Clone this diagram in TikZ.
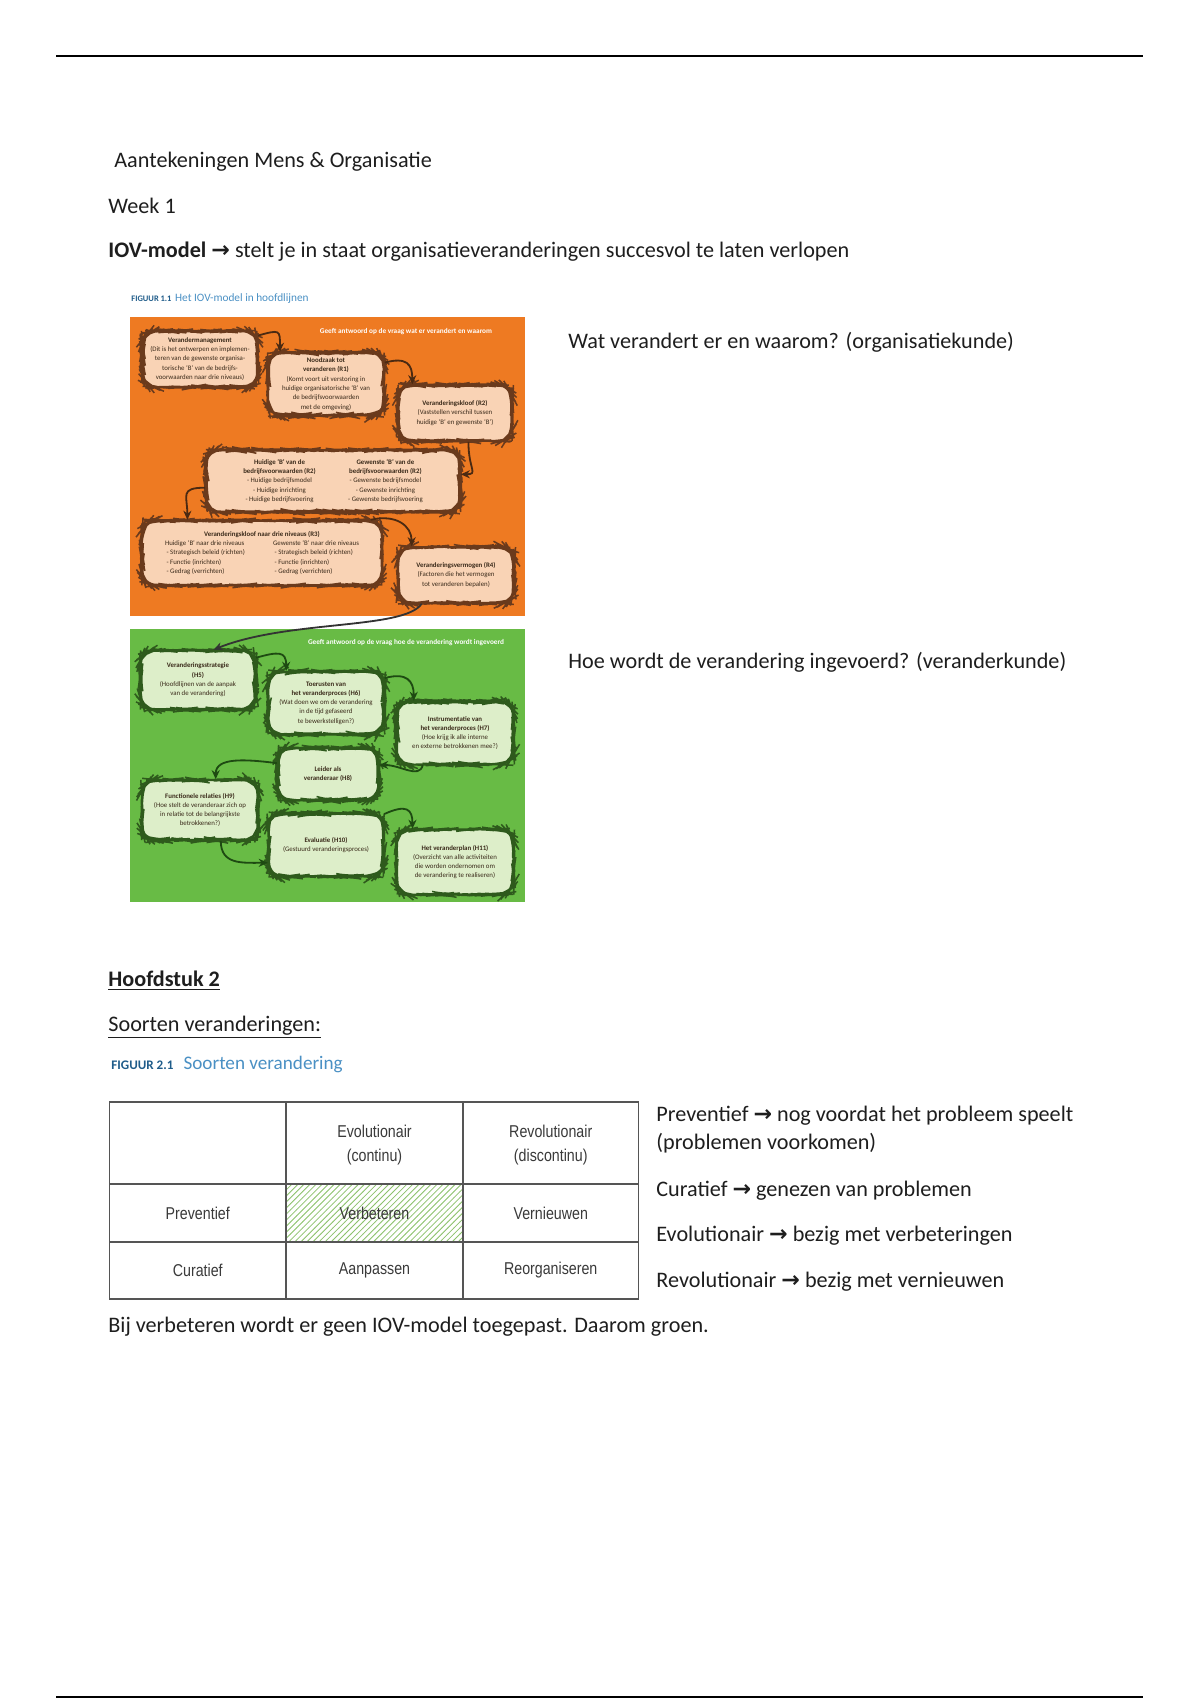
\documentclass[tikz,border=0pt]{standalone}
\usepackage{fontspec}
\setmainfont{Carlito}
\newfontfamily\arrowfont{DejaVu Sans}
\newfontfamily\tabfont[FakeStretch=0.83]{Liberation Sans}
\usetikzlibrary{patterns,decorations.pathmorphing,arrows.meta}
\definecolor{bodyc}{HTML}{1E1E1E}
\definecolor{orangebg}{HTML}{EE7A22}
\definecolor{ofill}{HTML}{F9D3B5}
\definecolor{obord}{HTML}{6A3A1C}
\definecolor{oarrc}{HTML}{4B2A12}
\definecolor{greenbg}{HTML}{68BB45}
\definecolor{gfill}{HTML}{DDEEC9}
\definecolor{gbord}{HTML}{2E5A1C}
\definecolor{garrc}{HTML}{1E4A12}
\definecolor{boxtext}{HTML}{3A2A1A}
\definecolor{capdark}{HTML}{1F5C8A}
\definecolor{caplight}{HTML}{4A90C4}
\definecolor{tabtext}{HTML}{3A3A3A}
\definecolor{tline}{HTML}{555555}
\definecolor{hatchg}{HTML}{8CC26C}
\begin{document}
\pgfmathsetseed{7}
\begin{tikzpicture}[x=0.4959pt,y=-0.4959pt,
  body/.style={anchor=base west,inner sep=0pt,font=\fontsize{11}{13.4}\selectfont,text=bodyc},
  obox/.style={draw=obord,fill=ofill,line width=0.75pt,rounded corners=7pt,align=center,inner sep=1pt,text=boxtext,
    font=\fontsize{3.4}{4.6}\selectfont,decorate,decoration={random steps,segment length=1.6pt,amplitude=0.22pt}},
  gbox/.style={obox,draw=gbord,fill=gfill},
  oarr/.style={draw=oarrc,line width=0.9pt,-{Stealth[length=4.5pt,width=4pt]}},
  garr/.style={oarr,draw=garrc},
  hdr/.style={inner sep=0pt,text=white,font=\fontsize{3.6}{4.2}\selectfont\bfseries},
  cell/.style={font=\tabfont\fontsize{8.5}{12}\selectfont,text=tabtext,align=center,inner sep=0pt},
  tl/.style={draw=tline,line width=0.6pt}
]
\useasboundingbox (0,0) rectangle (1200,1700);
\fill[white] (0,0) rectangle (1200,1700);
% page rules
\draw[line width=0.6pt,black] (56,56) -- (1143,56);
\draw[line width=0.6pt,black] (56,1697) -- (1143,1697);

% header texts
\node[body] (t1) at (114,168) {Aantekeningen Mens \& Organisatie};
\node[body] (t2) at (108,214) {Week 1};
\node[body] (t3) at (108,258) {\textbf{IOV-model} {\arrowfont\bfseries →} stelt je in staat organisatieveranderingen succesvol te laten verlopen};

% figure 1.1 caption
\node[anchor=base west,inner sep=0pt] (cap1) at (131,302) {{\fontsize{4.2}{5}\selectfont\bfseries\color{capdark}FIGUUR 1.1}\hspace{1.8pt}{\fontsize{5.6}{7}\selectfont\color{caplight}Het IOV-model in hoofdlijnen}};

% backgrounds
\fill[orangebg] (130,317) rectangle (525,616);
\fill[greenbg] (130,629) rectangle (525,902);

\node[hdr] (oh) at (406,332) {Geeft antwoord op de vraag wat er verandert en waarom};
\node[hdr] (gh) at (406,643) {Geeft antwoord op de vraag hoe de verandering wordt ingevoerd};

% orange boxes
\node[obox,minimum width=57pt,minimum height=27.8pt] (o1) at (200,359)
 {\textbf{Verandermanagement}\\(Dit is het ontwerpen en implemen-\\teren van de gewenste organisa-\\torische `B' van de bedrijfs-\\voorwaarden naar drie niveaus)};
\node[obox,minimum width=57.5pt,minimum height=31.2pt] (o2) at (326,384)
 {\textbf{Noodzaak tot}\\\textbf{veranderen (R1)}\\(Komt voort uit verstoring in\\huidige organisatorische `B' van\\de bedrijfsvoorwaarden\\met de omgeving)};
\node[obox,minimum width=56.5pt,minimum height=27.8pt] (o3) at (455,413)
 {\textbf{Veranderingskloof (R2)}\\(Vaststellen verschil tussen\\huidige `B' en gewenste `B')};
\node[obox,minimum width=126pt,minimum height=30.7pt] (o4) at (333,481)
 {\begin{tabular}{@{}c@{\hspace{16pt}}c@{}}
 \textbf{Huidige `B' van de} & \textbf{Gewenste `B' van de}\\
 \textbf{bedrijfsvoorwaarden (R2)} & \textbf{bedrijfsvoorwaarden (R2)}\\
 - Huidige bedrijfsmodel & - Gewenste bedrijfsmodel\\
 - Huidige inrichting & - Gewenste inrichting\\
 - Huidige bedrijfsvoering & - Gewenste bedrijfsvoering
 \end{tabular}};
\node[obox,minimum width=119pt,minimum height=32.2pt] (o5) at (262,553)
 {\begin{tabular}{@{}l@{\hspace{14pt}}l@{}}
 \multicolumn{2}{c}{\textbf{Veranderingskloof naar drie niveaus (R3)}}\\
 Huidige `B' naar drie niveaus & Gewenste `B' naar drie niveaus\\
 \ - Strategisch beleid (richten) & \ - Strategisch beleid (richten)\\
 \ - Functie (inrichten) & \ - Functie (inrichten)\\
 \ - Gedrag (verrichten) & \ - Gedrag (verrichten)
 \end{tabular}};
\node[obox,minimum width=57.5pt,minimum height=27.8pt] (o6) at (456,575)
 {\textbf{Veranderingsvermogen (R4)}\\(Factoren die het vermogen\\tot veranderen bepalen)};

% green boxes
\node[gbox,minimum width=57pt,minimum height=29.3pt] (g1) at (198,680)
 {\textbf{Veranderingsstrategie}\\\textbf{(H5)}\\(Hoofdlijnen van de aanpak\\van de verandering)};
\node[gbox,minimum width=57.5pt,minimum height=31.2pt] (g2) at (326,703)
 {\textbf{Toerusten van}\\\textbf{het veranderproces (H6)}\\(Wat doen we om de verandering\\in de tijd gefaseerd\\te bewerkstelligen?)};
\node[gbox,minimum width=58pt,minimum height=31.2pt] (g3) at (455,733)
 {\textbf{Instrumentatie van}\\\textbf{het veranderproces (H7)}\\(Hoe krijg ik alle interne\\en externe betrokkenen mee?)};
\node[gbox,minimum width=50pt,minimum height=25.8pt] (g4) at (328,774)
 {\textbf{Leider als}\\\textbf{veranderaar (H8)}};
\node[gbox,minimum width=57.5pt,minimum height=29.8pt] (g5) at (200,810)
 {\textbf{Functionele relaties (H9)}\\(Hoe stelt de veranderaar zich op\\in relatie tot de belangrijkste\\betrokkenen?)};
\node[gbox,minimum width=57pt,minimum height=31.2pt] (g6) at (326,845)
 {\textbf{Evaluatie (H10)}\\(Gestuurd veranderingsproces)};
\node[gbox,minimum width=58pt,minimum height=32.2pt] (g7) at (455,862)
 {\textbf{Het veranderplan (H11)}\\(Overzicht van alle activiteiten\\die worden ondernomen om\\de verandering te realiseren)};

% orange connectors
\draw[oarr] (o1.22) .. controls +(22,-6) and +(0,-22) .. (o2.145);
\draw[oarr] (o2.20) .. controls +(22,-6) and +(0,-20) .. (o3.146);
\draw[oarr] (o3.-65) .. controls +(0,28) and +(18,0) .. (o4.3);
\draw[oarr] (o4.183) .. controls +(-26,0) and +(0,-24) .. (o5.156);
\draw[oarr] (o5.17) .. controls +(26,-6) and +(0,-20) .. (o6.147);
\draw[oarr,draw=black!80] (o6.220) .. controls +(-18,26) and +(75,-30) .. (g1.63);

% green connectors
\draw[garr] (g1.21) .. controls +(22,-6) and +(0,-20) .. (g2.141);
\draw[garr] (g2.23) .. controls +(22,-6) and +(0,-20) .. (g3.142);
\draw[garr] (g3.225) .. controls +(-4,14) and +(22,0) .. (g4.10);
\draw[garr] (g4.168) .. controls +(-32,-4) and +(0,-22) .. (g5.63);
\draw[garr] (g5.-56) .. controls +(0,24) and +(-26,0) .. (g6.197);
\draw[garr] (g6.28) .. controls +(22,-10) and +(0,-20) .. (g7.142);

% right-hand notes for figure 1
\node[body] (n1) at (568,349) {Wat verandert er en waarom? (organisatiekunde)};
\node[body] (n2) at (568,668) {Hoe wordt de verandering ingevoerd? (veranderkunde)};

% chapter 2
\node[body] (h2) at (108,986) {\textbf{\underline{Hoofdstuk 2}}};
\node[body] (sv) at (108,1031) {\underline{Soorten veranderingen:}};
\node[anchor=base west,inner sep=0pt] (cap2) at (111,1069) {{\fontsize{6.5}{8}\selectfont\bfseries\color{capdark}FIGUUR 2.1}\hspace{5pt}{\fontsize{9.5}{11}\selectfont\color{caplight}Soorten verandering}};

% table
\fill[pattern=north east lines,pattern color=hatchg] (286,1184) rectangle (463,1242);
\draw[tl] (109.5,1102) rectangle (638.5,1299);
\draw[tl] (286,1102) -- (286,1299);
\draw[tl] (463,1102) -- (463,1299);
\draw[tl] (109.5,1184) -- (638.5,1184);
\draw[tl] (109.5,1242) -- (638.5,1242);
\node[cell] (c12) at (374.5,1145) {Evolutionair\\(continu)};
\node[cell] (c13) at (550.75,1145) {Revolutionair\\(discontinu)};
\node[cell] (c21) at (197.75,1213) {Preventief};
\node[cell] (c22) at (374.5,1213) {Verbeteren};
\node[cell] (c23) at (550.75,1213) {Vernieuwen};
\node[cell] (c31) at (197.75,1270.5) {Curatief};
\node[cell] (c32) at (374.5,1270.5) {Aanpassen};
\node[cell] (c33) at (550.75,1270.5) {Reorganiseren};

% right-hand notes for table
\node[body] (r1) at (656,1121) {Preventief {\arrowfont\bfseries →} nog voordat het probleem speelt};
\node[body] (r2) at (656,1149) {(problemen voorkomen)};
\node[body] (r3) at (656,1196) {Curatief {\arrowfont\bfseries →} genezen van problemen};
\node[body] (r4) at (656,1241) {Evolutionair {\arrowfont\bfseries →} bezig met verbeteringen};
\node[body] (r5) at (656,1287) {Revolutionair {\arrowfont\bfseries →} bezig met vernieuwen};

\node[body] (b1) at (108,1332) {Bij verbeteren wordt er geen IOV-model toegepast. Daarom groen.};
\end{tikzpicture}
\end{document}
